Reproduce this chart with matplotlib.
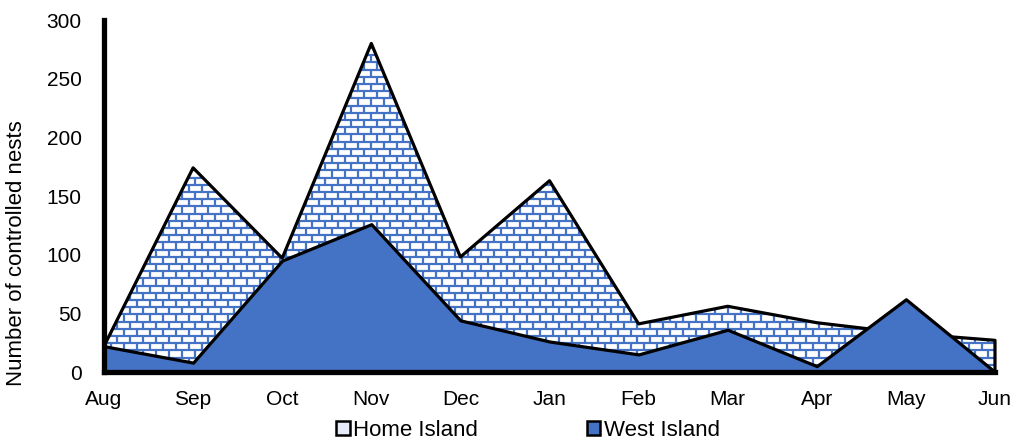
import matplotlib
matplotlib.use("Agg")
import matplotlib.pyplot as plt
import numpy as np
from matplotlib.collections import LineCollection
from matplotlib.patches import Patch
from matplotlib.transforms import IdentityTransform

plt.rcParams['font.family'] = ['Liberation Sans', 'DejaVu Sans']

months = ["Aug", "Sep", "Oct", "Nov", "Dec", "Jan", "Feb", "Mar", "Apr", "May", "Jun"]
home_island = [22, 174, 97, 280, 98, 163, 41, 56, 42, 33, 27]
west_island = [22, 8, 95, 126, 44, 26, 15, 36, 5, 62, 0]

blue = "#4472C4"
W, H = 1016, 442

fig = plt.figure(figsize=(W / 100, H / 100), dpi=100)
ax = fig.add_axes([104 / W, 70 / H, (995 - 104) / W, (422 - 70) / H])

x = np.arange(len(months))

# home island: white base, brick pattern clipped to the area, then outline
base = ax.fill_between(x, 0, home_island, facecolor="white", edgecolor="none", zorder=1)

segs = []
bw, bh = 13.0, 7.2
x0, x1, y0, y1 = 104, 995, 70, 422
row = 0
yy = y0
while yy < y1 + bh:
    segs.append([(x0, yy), (x1, yy)])
    off = (row % 2) * bw / 2
    xx = x0 + off
    while xx < x1:
        segs.append([(xx, yy), (xx, yy + bh)])
        xx += bw
    yy += bh
    row += 1
bricks = LineCollection(segs, colors=blue, linewidths=1.6, transform=IdentityTransform(), zorder=2)
ax.add_collection(bricks, autolim=False)
bricks.set_clip_path(base.get_paths()[0], base.get_transform())

ax.fill_between(x, 0, home_island, facecolor="none", edgecolor="black", linewidth=2.3,
                zorder=3, clip_on=False)

# west island on top
ax.fill_between(x, 0, west_island, facecolor=blue, edgecolor="black", linewidth=2.3,
                zorder=4, clip_on=False)

ax.set_xlim(0, len(months) - 1)
ax.set_ylim(0, 300)
ax.set_yticks(np.arange(0, 301, 50))
ax.set_xticks(x)
ax.set_xticklabels(months)

for s in ["top", "right"]:
    ax.spines[s].set_visible(False)
for s in ["left", "bottom"]:
    ax.spines[s].set_linewidth(3.8)
    ax.spines[s].set_zorder(5)
    ax.spines[s].set_capstyle("projecting")
ax.tick_params(axis="x", length=0, pad=13, labelsize=15)
ax.tick_params(axis="y", length=0, pad=16, labelsize=15)
ax.set_ylabel("Number of controlled nests", fontsize=16)
ax.yaxis.set_label_coords(-0.086, 0.338)

handles = [Patch(facecolor="#e6edf8", edgecolor="black", linewidth=1.8, label="Home Island"),
           Patch(facecolor=blue, edgecolor="black", linewidth=1.8, label="West Island")]
fig.legend(handles=handles, loc="center", bbox_to_anchor=(528 / W, 1 - 430 / H), ncol=2,
           frameon=False, fontsize=16, handlelength=0.6, handleheight=0.6,
           handletextpad=0.15, columnspacing=4.9, borderaxespad=0)

fig.savefig("out.png", dpi=100)
